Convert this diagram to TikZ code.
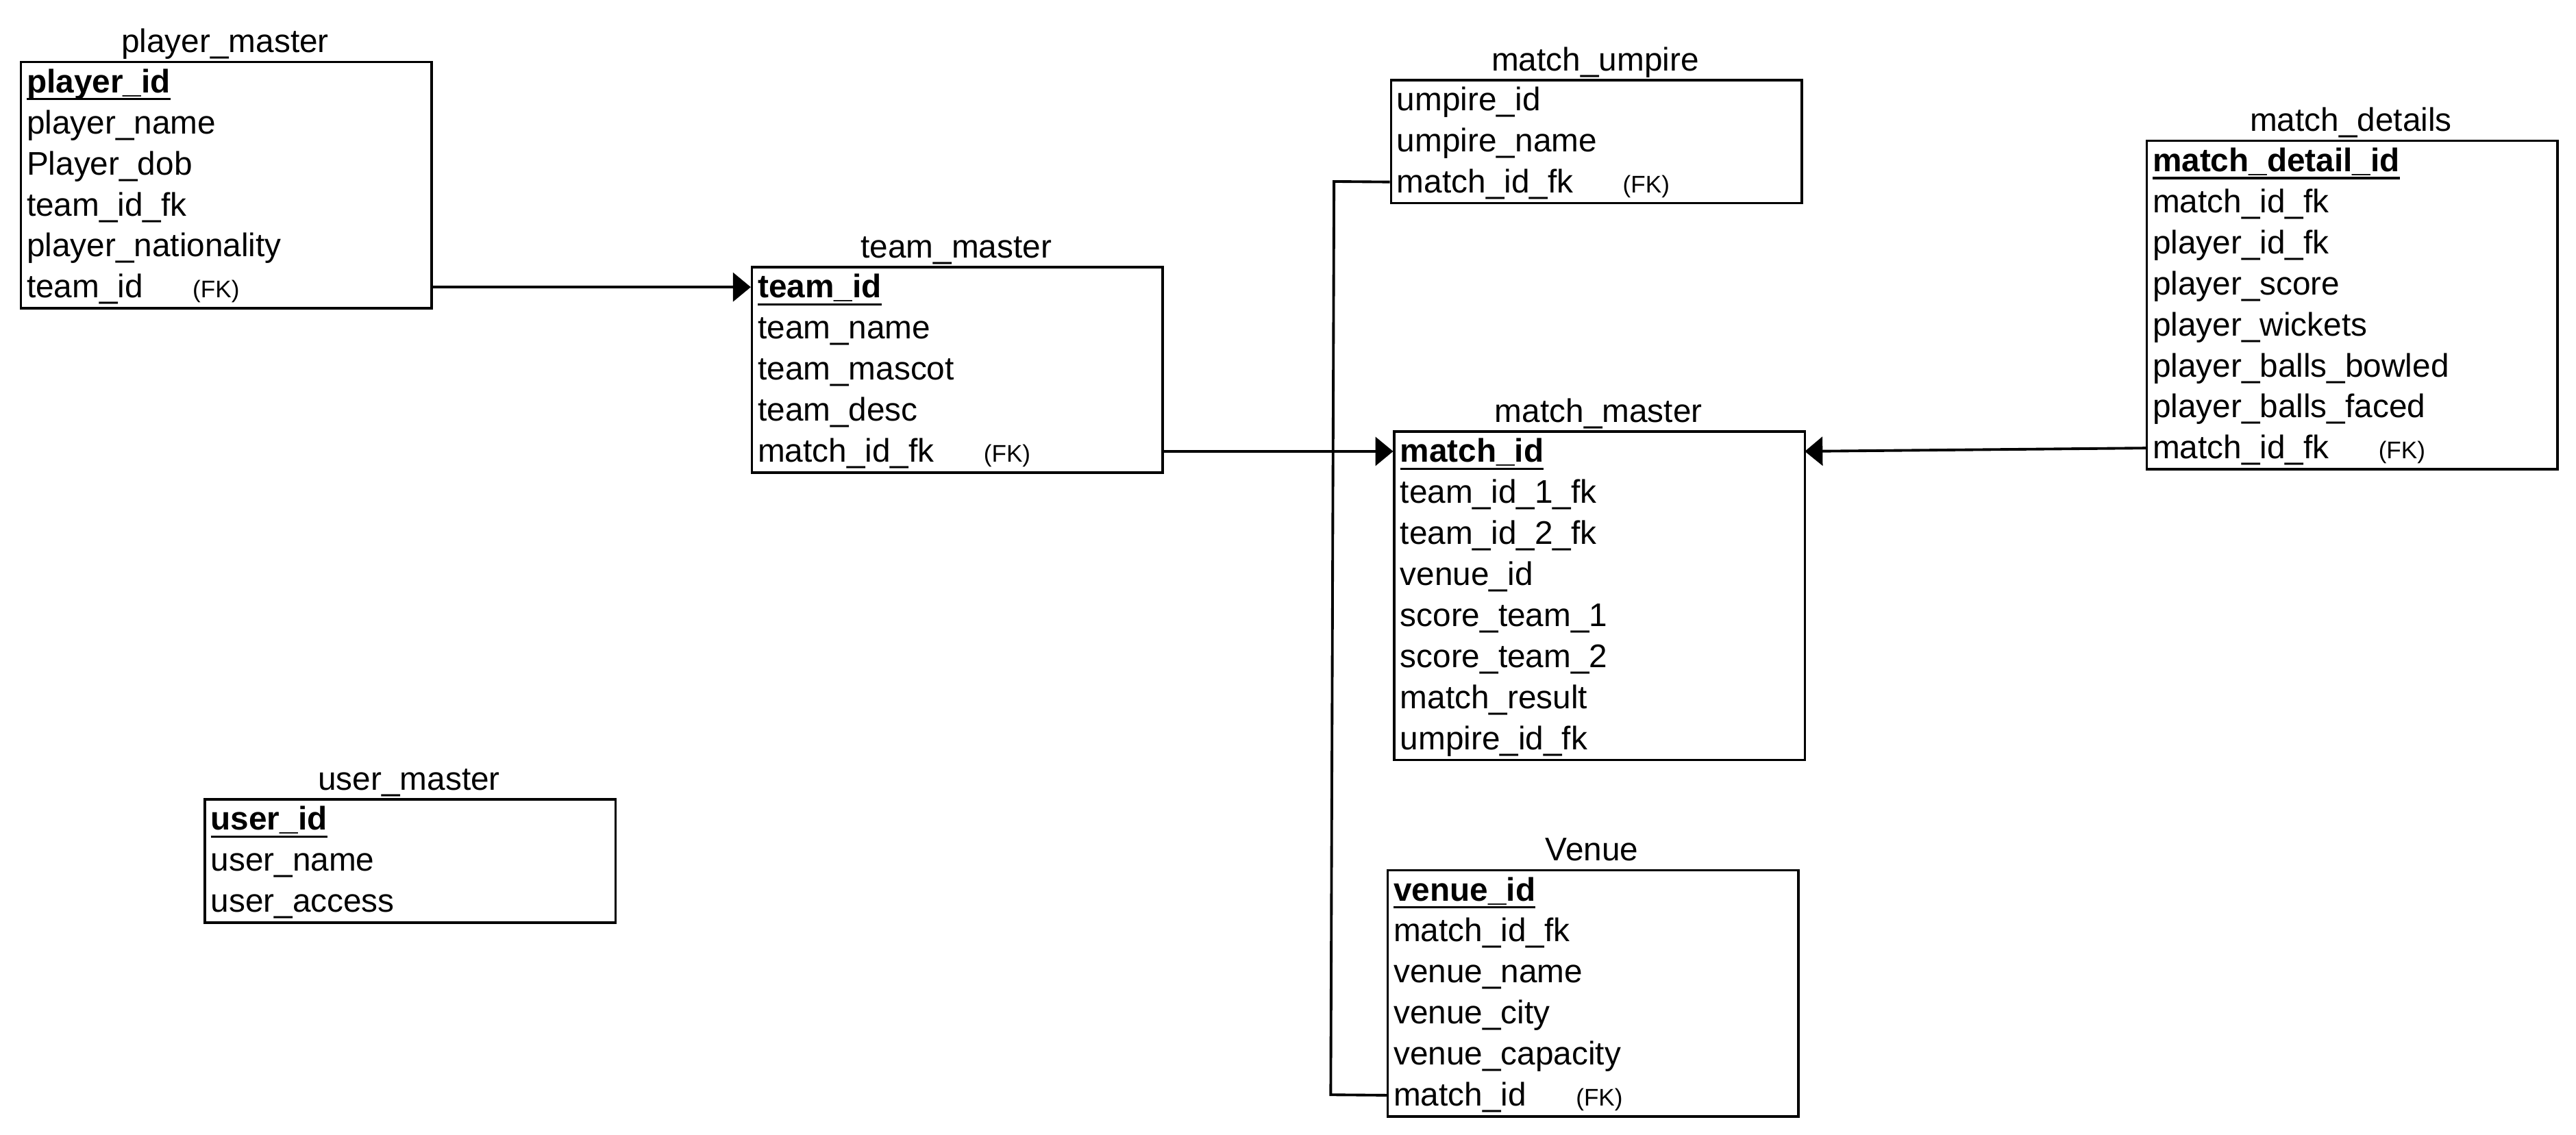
\documentclass[tikz,border=0pt]{standalone}
\usepackage{fontspec}
\setmainfont{Liberation Sans}
\usetikzlibrary{arrows.meta}

% field helpers
\newcommand\fkmark{{\fontsize{10}{12}\selectfont(FK)}}
\newcommand\fkfield[2]{\makebox[#1][l]{#2}\fkmark}
\newsavebox\pkbox
\newcommand\pkfield[1]{\sbox\pkbox{\textbf{#1}}\rlap{\rule[-3.2pt]{\wd\pkbox}{0.9pt}}\usebox\pkbox}

\tikzset{
  tablebox/.style={draw, line width=1pt, minimum width=6cm, inner sep=0pt, anchor=north west},
  fieldrow/.style={anchor=north west, minimum height=0.6cm, text width=5.808cm,
    text height=12pt, text depth=3pt,
    inner xsep=0.096cm, inner ysep=0pt, align=left, font=\fontsize{13.6}{16}\selectfont},
  tabletitle/.style={anchor=base, font=\fontsize{13.6}{16}\selectfont, inner sep=0pt},
  fklink/.style={line width=1.1pt, -{Triangle[length=0.26cm,width=0.42cm]}},
  plainlink/.style={line width=1.1pt},
}

% #1 name, #2 left, #3 top, #4 title, #5 fields
\newcommand\erdtable[5]{%
  \node[tabletitle] (#1-title) at (#2+125,#3-5) {#4};
  \foreach \fieldtext [count=\k] in {#5} {
    \node[fieldrow] (#1-r\k) at (#2,{#3+25*(\k-1)}) {\fieldtext};
    \xdef\rowcount{\k}
  }
  \node[tablebox, minimum height={\rowcount*0.6cm}] (#1) at (#2,#3) {};
}

\begin{document}
\begin{tikzpicture}[x=0.024cm, y=-0.024cm]
  \useasboundingbox (0,0) rectangle (1568,690.6);

  \erdtable{pm}{12}{37}{player\_master}{%
    {\pkfield{player\_id}},{player\_name},{Player\_dob},{team\_id\_fk},
    {player\_nationality},{\fkfield{2.424cm}{team\_id}}}

  \erdtable{tm}{457}{162}{team\_master}{%
    {\pkfield{team\_id}},{team\_name},{team\_mascot},{team\_desc},
    {\fkfield{3.3cm}{match\_id\_fk}}}

  \erdtable{mu}{846}{48}{match\_umpire}{%
    {umpire\_id},{umpire\_name},{\fkfield{3.3cm}{match\_id\_fk}}}

  \erdtable{md}{1306}{85}{match\_details}{%
    {\pkfield{match\_detail\_id}},{match\_id\_fk},{player\_id\_fk},{player\_score},
    {player\_wickets},{player\_balls\_bowled},{player\_balls\_faced},
    {\fkfield{3.3cm}{match\_id\_fk}}}

  \erdtable{mm}{848}{262}{match\_master}{%
    {\pkfield{match\_id}},{team\_id\_1\_fk},{team\_id\_2\_fk},{venue\_id},
    {score\_team\_1},{score\_team\_2},{match\_result},{umpire\_id\_fk}}

  \erdtable{um}{124}{486}{user\_master}{%
    {\pkfield{user\_id}},{user\_name},{user\_access}}

  \erdtable{v}{844}{529}{Venue}{%
    {\pkfield{venue\_id}},{match\_id\_fk},{venue\_name},{venue\_city},
    {venue\_capacity},{\fkfield{2.664cm}{match\_id}}}

  % relationships
  \draw[fklink] (pm-r6.east) -- (tm-r1.west);
  \draw[fklink] (tm-r5.east) -- (mm-r1.west);
  \draw[fklink] (md-r8.west) -- (mm-r1.east);

  \coordinate (bendTop) at (812,110.5);
  \coordinate (bendBot) at (810,666.5);
  \draw[plainlink] (mu-r3.west) -- (bendTop) -- (bendBot) -- (v-r6.west);
\end{tikzpicture}
\end{document}
